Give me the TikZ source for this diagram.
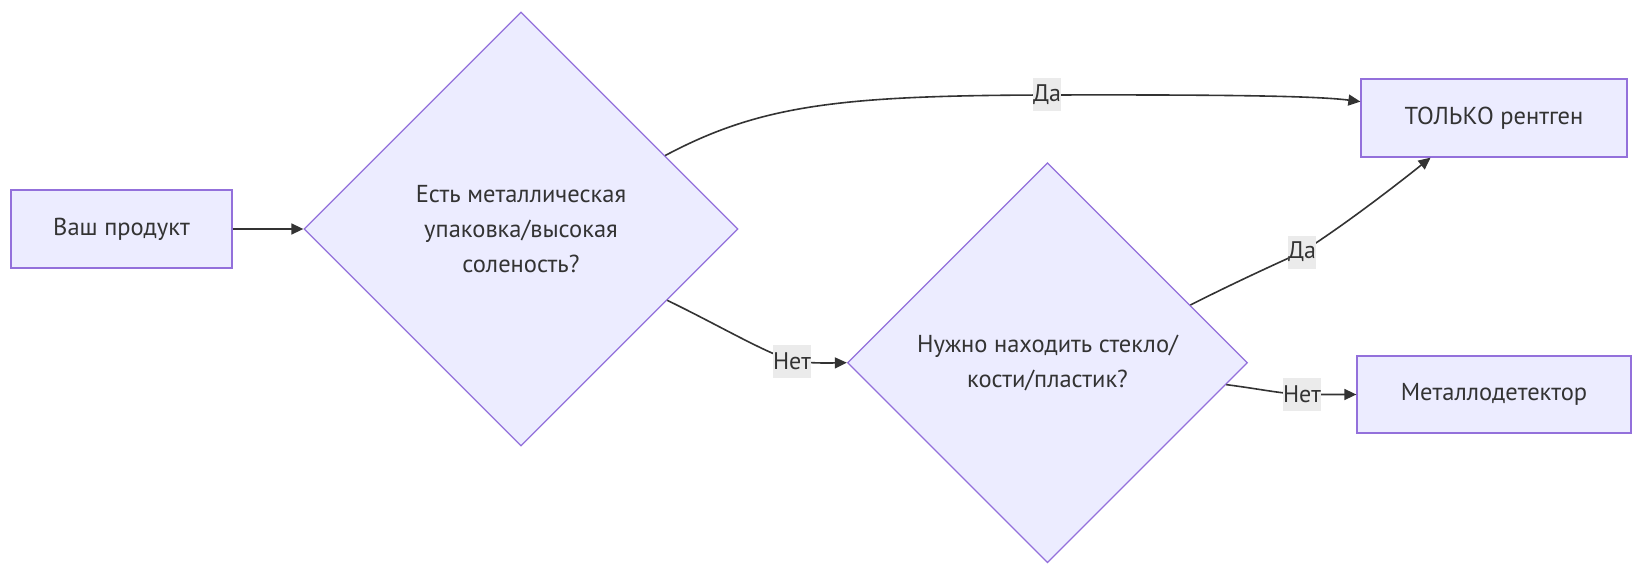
\documentclass[tikz,border=0pt]{standalone}
\usepackage{fontspec}
\setmainfont{PT Sans}
\usetikzlibrary{shapes.geometric,arrows.meta}
\definecolor{nodefill}{HTML}{ECECFF}
\definecolor{nodeline}{HTML}{9370DB}
\definecolor{edgecol}{HTML}{333333}
\definecolor{lblfill}{RGB}{235,235,235}
\tikzset{
  proc/.style={rectangle, draw=nodeline, fill=nodefill, line width=1.3pt, text=edgecol, inner sep=0pt, font=\fontsize{24.5}{35}\selectfont},
  decide/.style={diamond, aspect=1, draw=nodeline, fill=nodefill, line width=1.3pt, text=edgecol, inner sep=0pt, minimum size=#1, align=center, font=\fontsize{24.5}{35}\selectfont},
  conn/.style={draw=edgecol, line width=1.6pt, -{Triangle[length=12pt,width=11pt]}},
  lbl/.style={fill=lblfill, text=edgecol, inner sep=0pt, minimum height=33pt, font=\fontsize{24}{28}\selectfont}
}
\begin{document}
\begin{tikzpicture}[x=1pt,y=-1pt]
\useasboundingbox (0,0) rectangle (1642,575);
\node[proc, minimum width=221pt, minimum height=78pt] (a) at (121.5,229) {Ваш продукт};
\node[decide=434pt] (d1) at (521,229) {Есть металлическая\\упаковка/высокая\\соленость?};
\node[decide=400pt] (d2) at (1047.5,362.7) {Нужно находить стекло/\\кости/пластик?};
\node[proc, minimum width=266pt, minimum height=78pt] (b) at (1494,118) {ТОЛЬКО рентген};
\node[proc, minimum width=274pt, minimum height=77pt] (c) at (1494,394.5) {Металлодетектор};

\draw[conn] (a.east) -- (d1.west);
\draw[conn] (d1.27.4) .. controls (760,105) and (840,95.5) .. (1047,95)
   node[lbl] {Да}
   .. controls (1250,94.5) and (1320,96.5) .. (b.173);
\draw[conn] (d1.-26.3) .. controls (720,326) and (760,350) .. (792,361)
   node[lbl] {Нет}
   .. controls (812,363.5) and (830,363) .. (d2.west);
\draw[conn] (d2.22.9) .. controls (1240,280) and (1280,262) .. (1302,252)
   node[lbl] {Да}
   .. controls (1340,228) and (1390,190) .. (b.212.7);
\draw[conn] (d2.-7.3) .. controls (1260,389) and (1280,393.5) .. (1302,394.5)
   node[lbl] {Нет}
   -- (c.west);
\end{tikzpicture}
\end{document}
